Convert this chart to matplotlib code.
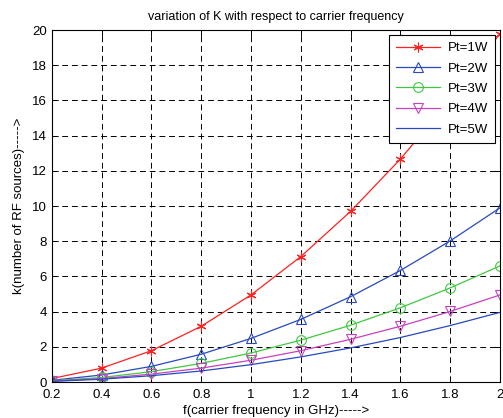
import matplotlib
matplotlib.use("Agg")
import matplotlib.pyplot as plt

f = [0.2, 0.4, 0.6, 0.8, 1.0, 1.2, 1.4, 1.6, 1.8, 2.0]
k_pt1 = [0.2, 0.79, 1.78, 3.17, 4.95, 7.13, 9.7, 12.67, 16.04, 19.8]
k_pt2 = [0.1, 0.4, 0.89, 1.58, 2.48, 3.56, 4.85, 6.34, 8.02, 9.9]
k_pt3 = [0.07, 0.26, 0.59, 1.06, 1.65, 2.38, 3.23, 4.22, 5.35, 6.6]
k_pt4 = [0.05, 0.2, 0.45, 0.79, 1.24, 1.78, 2.43, 3.17, 4.01, 4.95]
k_pt5 = [0.04, 0.16, 0.36, 0.63, 0.99, 1.43, 1.94, 2.53, 3.21, 3.96]
labels = ["Pt=1W", "Pt=2W", "Pt=3W", "Pt=4W", "Pt=5W"]
xticks = [0.2, 0.4, 0.6, 0.8, 1, 1.2, 1.4, 1.6, 1.8, 2]
xticklabels = ["0.2", "0.4", "0.6", "0.8", "1", "1.2", "1.4", "1.6", "1.8", "2"]
yticks = list(range(0, 21, 2))

plt.rcParams['font.family'] = ['Liberation Sans', 'DejaVu Sans']
fig = plt.figure(figsize=(5.03, 4.18), dpi=100)
ax = fig.add_axes([0.103, 0.086, 0.891, 0.842])

series = [k_pt1, k_pt2, k_pt3, k_pt4, k_pt5]
colors = ['#ff2020', '#2848c0', '#40c840', '#c840c0', '#2848c0']
markers = [(6, 2, 0), '^', 'o', 'v', None]
for ys, c, m, lab in zip(series, colors, markers, labels):
    ax.plot(f, ys, color=c, marker=m, markersize=7,
            markerfacecolor='none', markeredgecolor=c,
            linewidth=0.9, label=lab, markeredgewidth=0.8)

ax.set_xlim(0.2, 2)
ax.set_ylim(0, 20)
ax.set_xticks(xticks)
ax.set_xticklabels(xticklabels)
ax.set_yticks(yticks)
ax.grid(True, color='black', linestyle=(0, (6, 4)), linewidth=0.7)
ax.tick_params(direction='in', top=True, right=True, labelsize=9.5, length=4, width=0.7)
ax.tick_params(axis='x', pad=5)
for s in ax.spines.values():
    s.set_linewidth(0.8)
ax.set_title("variation of K with respect to carrier frequency", fontsize=9, pad=7)
ax.set_xlabel("f(carrier frequency in GHz)----->", fontsize=9.5, labelpad=3)
ax.set_ylabel("k(number of RF sources)----->", fontsize=9.5, labelpad=5)
leg = ax.legend(loc='upper right', fontsize=9.5, fancybox=False, framealpha=1,
                edgecolor='black', borderaxespad=0.35, handlelength=3.3,
                labelspacing=0.62, borderpad=0.55, handletextpad=0.6)
leg.get_frame().set_linewidth(0.8)

fig.savefig("out.png", dpi=100)
